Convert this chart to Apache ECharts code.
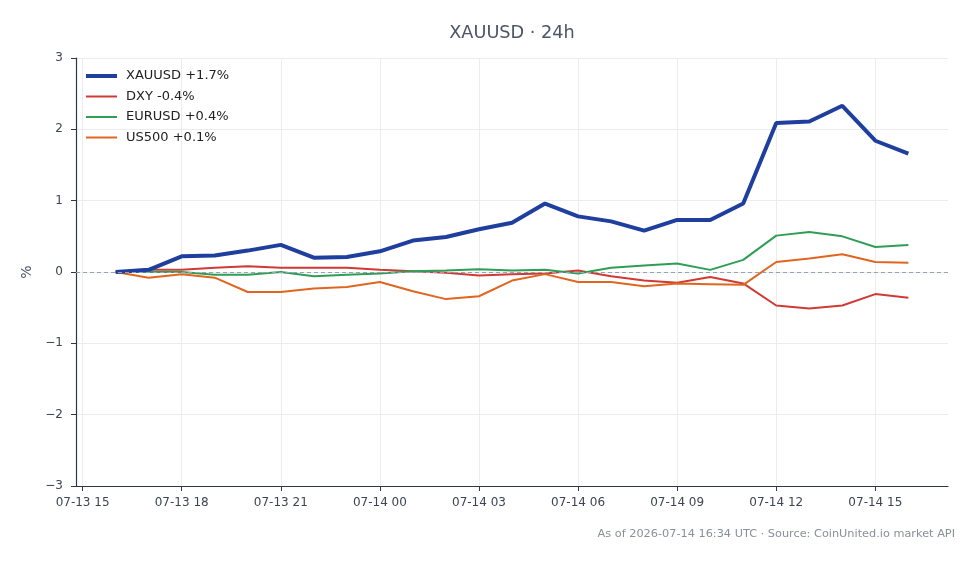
<html lang="en">
<head>
    <meta charset="UTF-8">
    <title>XAUUSD 24h</title>
    <script src="https://cdn.jsdelivr.net/npm/echarts@6/dist/echarts.min.js"></script>
</head>
<body style="margin:0;">
    <div id="container" style="width:980px;height:564px;"></div>
<script>
    // hourly points, UTC
    var times = ['2026-07-13T16:00Z', '2026-07-13T17:00Z', '2026-07-13T18:00Z', '2026-07-13T19:00Z',
        '2026-07-13T20:00Z', '2026-07-13T21:00Z', '2026-07-13T22:00Z', '2026-07-13T23:00Z',
        '2026-07-14T00:00Z', '2026-07-14T01:00Z', '2026-07-14T02:00Z', '2026-07-14T03:00Z',
        '2026-07-14T04:00Z', '2026-07-14T05:00Z', '2026-07-14T06:00Z', '2026-07-14T07:00Z',
        '2026-07-14T08:00Z', '2026-07-14T09:00Z', '2026-07-14T10:00Z', '2026-07-14T11:00Z',
        '2026-07-14T12:00Z', '2026-07-14T13:00Z', '2026-07-14T14:00Z', '2026-07-14T15:00Z',
        '2026-07-14T16:00Z'];
    var xauusd = [0, 0.03, 0.22, 0.23, 0.30, 0.38, 0.20, 0.21, 0.29, 0.44, 0.49, 0.60, 0.69,
        0.96, 0.78, 0.71, 0.58, 0.73, 0.73, 0.96, 2.09, 2.11, 2.33, 1.84, 1.66];
    var dxy = [0, 0.03, 0.03, 0.06, 0.08, 0.06, 0.06, 0.06, 0.03, 0.01, -0.01, -0.05, -0.03,
        -0.02, 0.02, -0.06, -0.12, -0.15, -0.07, -0.16, -0.47, -0.51, -0.47, -0.31, -0.36];
    var eurusd = [0, 0.0, 0.0, -0.04, -0.04, 0.0, -0.06, -0.04, -0.02, 0.01, 0.02, 0.04, 0.02,
        0.03, -0.02, 0.06, 0.09, 0.12, 0.03, 0.17, 0.51, 0.56, 0.50, 0.35, 0.38];
    var us500 = [0, -0.08, -0.03, -0.08, -0.28, -0.28, -0.23, -0.21, -0.14, -0.27, -0.38, -0.34, -0.12,
        -0.03, -0.14, -0.14, -0.20, -0.16, -0.17, -0.18, 0.14, 0.19, 0.25, 0.14, 0.13];
    var names = ['XAUUSD +1.7%', 'DXY -0.4%', 'EURUSD +0.4%', 'US500 +0.1%'];
    var tickTimes = ['2026-07-13T15:00Z', '2026-07-13T18:00Z', '2026-07-13T21:00Z', '2026-07-14T00:00Z',
        '2026-07-14T03:00Z', '2026-07-14T06:00Z', '2026-07-14T09:00Z', '2026-07-14T12:00Z',
        '2026-07-14T15:00Z'];

    var xs = times.map(function (t) { return Date.parse(t); });
    var ticks = tickTimes.map(function (t) { return Date.parse(t); });
    var pad = (xs[xs.length - 1] - xs[0]) * 0.05;

    function pair(vals) {
        return vals.map(function (v, i) { return [xs[i], v]; });
    }
    function two(n) { return (n < 10 ? '0' : '') + n; }
    function fmtTime(v) {
        var d = new Date(v);
        return two(d.getUTCMonth() + 1) + '-' + two(d.getUTCDate()) + ' ' + two(d.getUTCHours());
    }

    var font = 'DejaVu Sans';
    var axisColor = '#2d3748';
    var legendText = { fontFamily: font, fontSize: 13, color: '#222', padding: [0, 0, 0, 4] };
    var chart = echarts.init(document.getElementById('container'));
    var option = {
        backgroundColor: '#ffffff',
        animation: false,
        textStyle: { fontFamily: font },
        title: [{
            text: 'XAUUSD · 24h',
            left: 507,
            textAlign: 'center',
            top: 19,
            textStyle: { fontFamily: font, fontSize: 17.7, fontWeight: 'normal', color: '#4a5568' }
        }, {
            text: 'As of 2026-07-14 16:34 UTC · Source: CoinUnited.io market API',
            right: 20,
            top: 524,
            textStyle: { fontFamily: font, fontSize: 11.3, fontWeight: 'normal', color: '#8a8f98' }
        }],
        grid: { left: 76, right: 32, top: 58, bottom: 78 },
        // two legends so the key line widths follow the series widths
        legend: [{
            orient: 'vertical',
            left: 86,
            top: 69.5,
            padding: 0,
            icon: 'rect',
            itemWidth: 31,
            itemHeight: 4,
            textStyle: legendText,
            data: [names[0]]
        }, {
            orient: 'vertical',
            left: 86,
            top: 90,
            padding: 0,
            icon: 'rect',
            itemWidth: 31,
            itemHeight: 2,
            itemGap: 7.5,
            textStyle: legendText,
            data: names.slice(1)
        }],
        xAxis: {
            type: 'value',
            min: xs[0] - pad,
            max: xs[xs.length - 1] + pad,
            axisLine: { onZero: false, lineStyle: { color: axisColor, width: 1.2 } },
            axisTick: { show: true, length: 5, customValues: ticks, lineStyle: { color: axisColor } },
            axisLabel: {
                customValues: ticks,
                color: '#3d4452',
                fontSize: 12,
                margin: 11,
                formatter: function (v) { return fmtTime(v); }
            },
            splitLine: { show: true, lineStyle: { color: '#ececec' } }
        },
        yAxis: {
            type: 'value',
            min: -3,
            max: 3,
            interval: 1,
            name: '%',
            nameLocation: 'middle',
            nameRotate: 90,
            nameGap: 36,
            nameTextStyle: { fontSize: 14, color: '#4a5568' },
            axisLine: { show: true, onZero: false, lineStyle: { color: axisColor, width: 1.2 } },
            axisTick: { show: true, length: 5, lineStyle: { color: axisColor } },
            axisLabel: {
                color: '#3d4452',
                fontSize: 12,
                margin: 13,
                formatter: function (v) { return v < 0 ? '\u2212' + Math.abs(v) : String(v); }
            },
            splitLine: { show: true, lineStyle: { color: '#ececec' } }
        },
        series: [{
            name: names[1],
            type: 'line',
            data: pair(dxy),
            symbol: 'none',
            z: 3,
            color: '#d03a35',
            lineStyle: { width: 2, color: '#d03a35' },
            markLine: {
                silent: true,
                symbol: 'none',
                label: { show: false },
                lineStyle: { type: [4, 3], color: '#97a2b6', width: 1 },
                data: [{ yAxis: 0 }]
            }
        }, {
            name: names[2],
            type: 'line',
            data: pair(eurusd),
            symbol: 'none',
            z: 3,
            color: '#2f9e55',
            lineStyle: { width: 2, color: '#2f9e55' }
        }, {
            name: names[3],
            type: 'line',
            data: pair(us500),
            symbol: 'none',
            z: 3,
            color: '#e0661f',
            lineStyle: { width: 2, color: '#e0661f' }
        }, {
            name: names[0],
            type: 'line',
            data: pair(xauusd),
            symbol: 'none',
            z: 4,
            color: '#1f3f9e',
            lineStyle: { width: 4, color: '#1f3f9e' }
        }]
    };
    chart.setOption(option);
</script>
</body>
</html>
